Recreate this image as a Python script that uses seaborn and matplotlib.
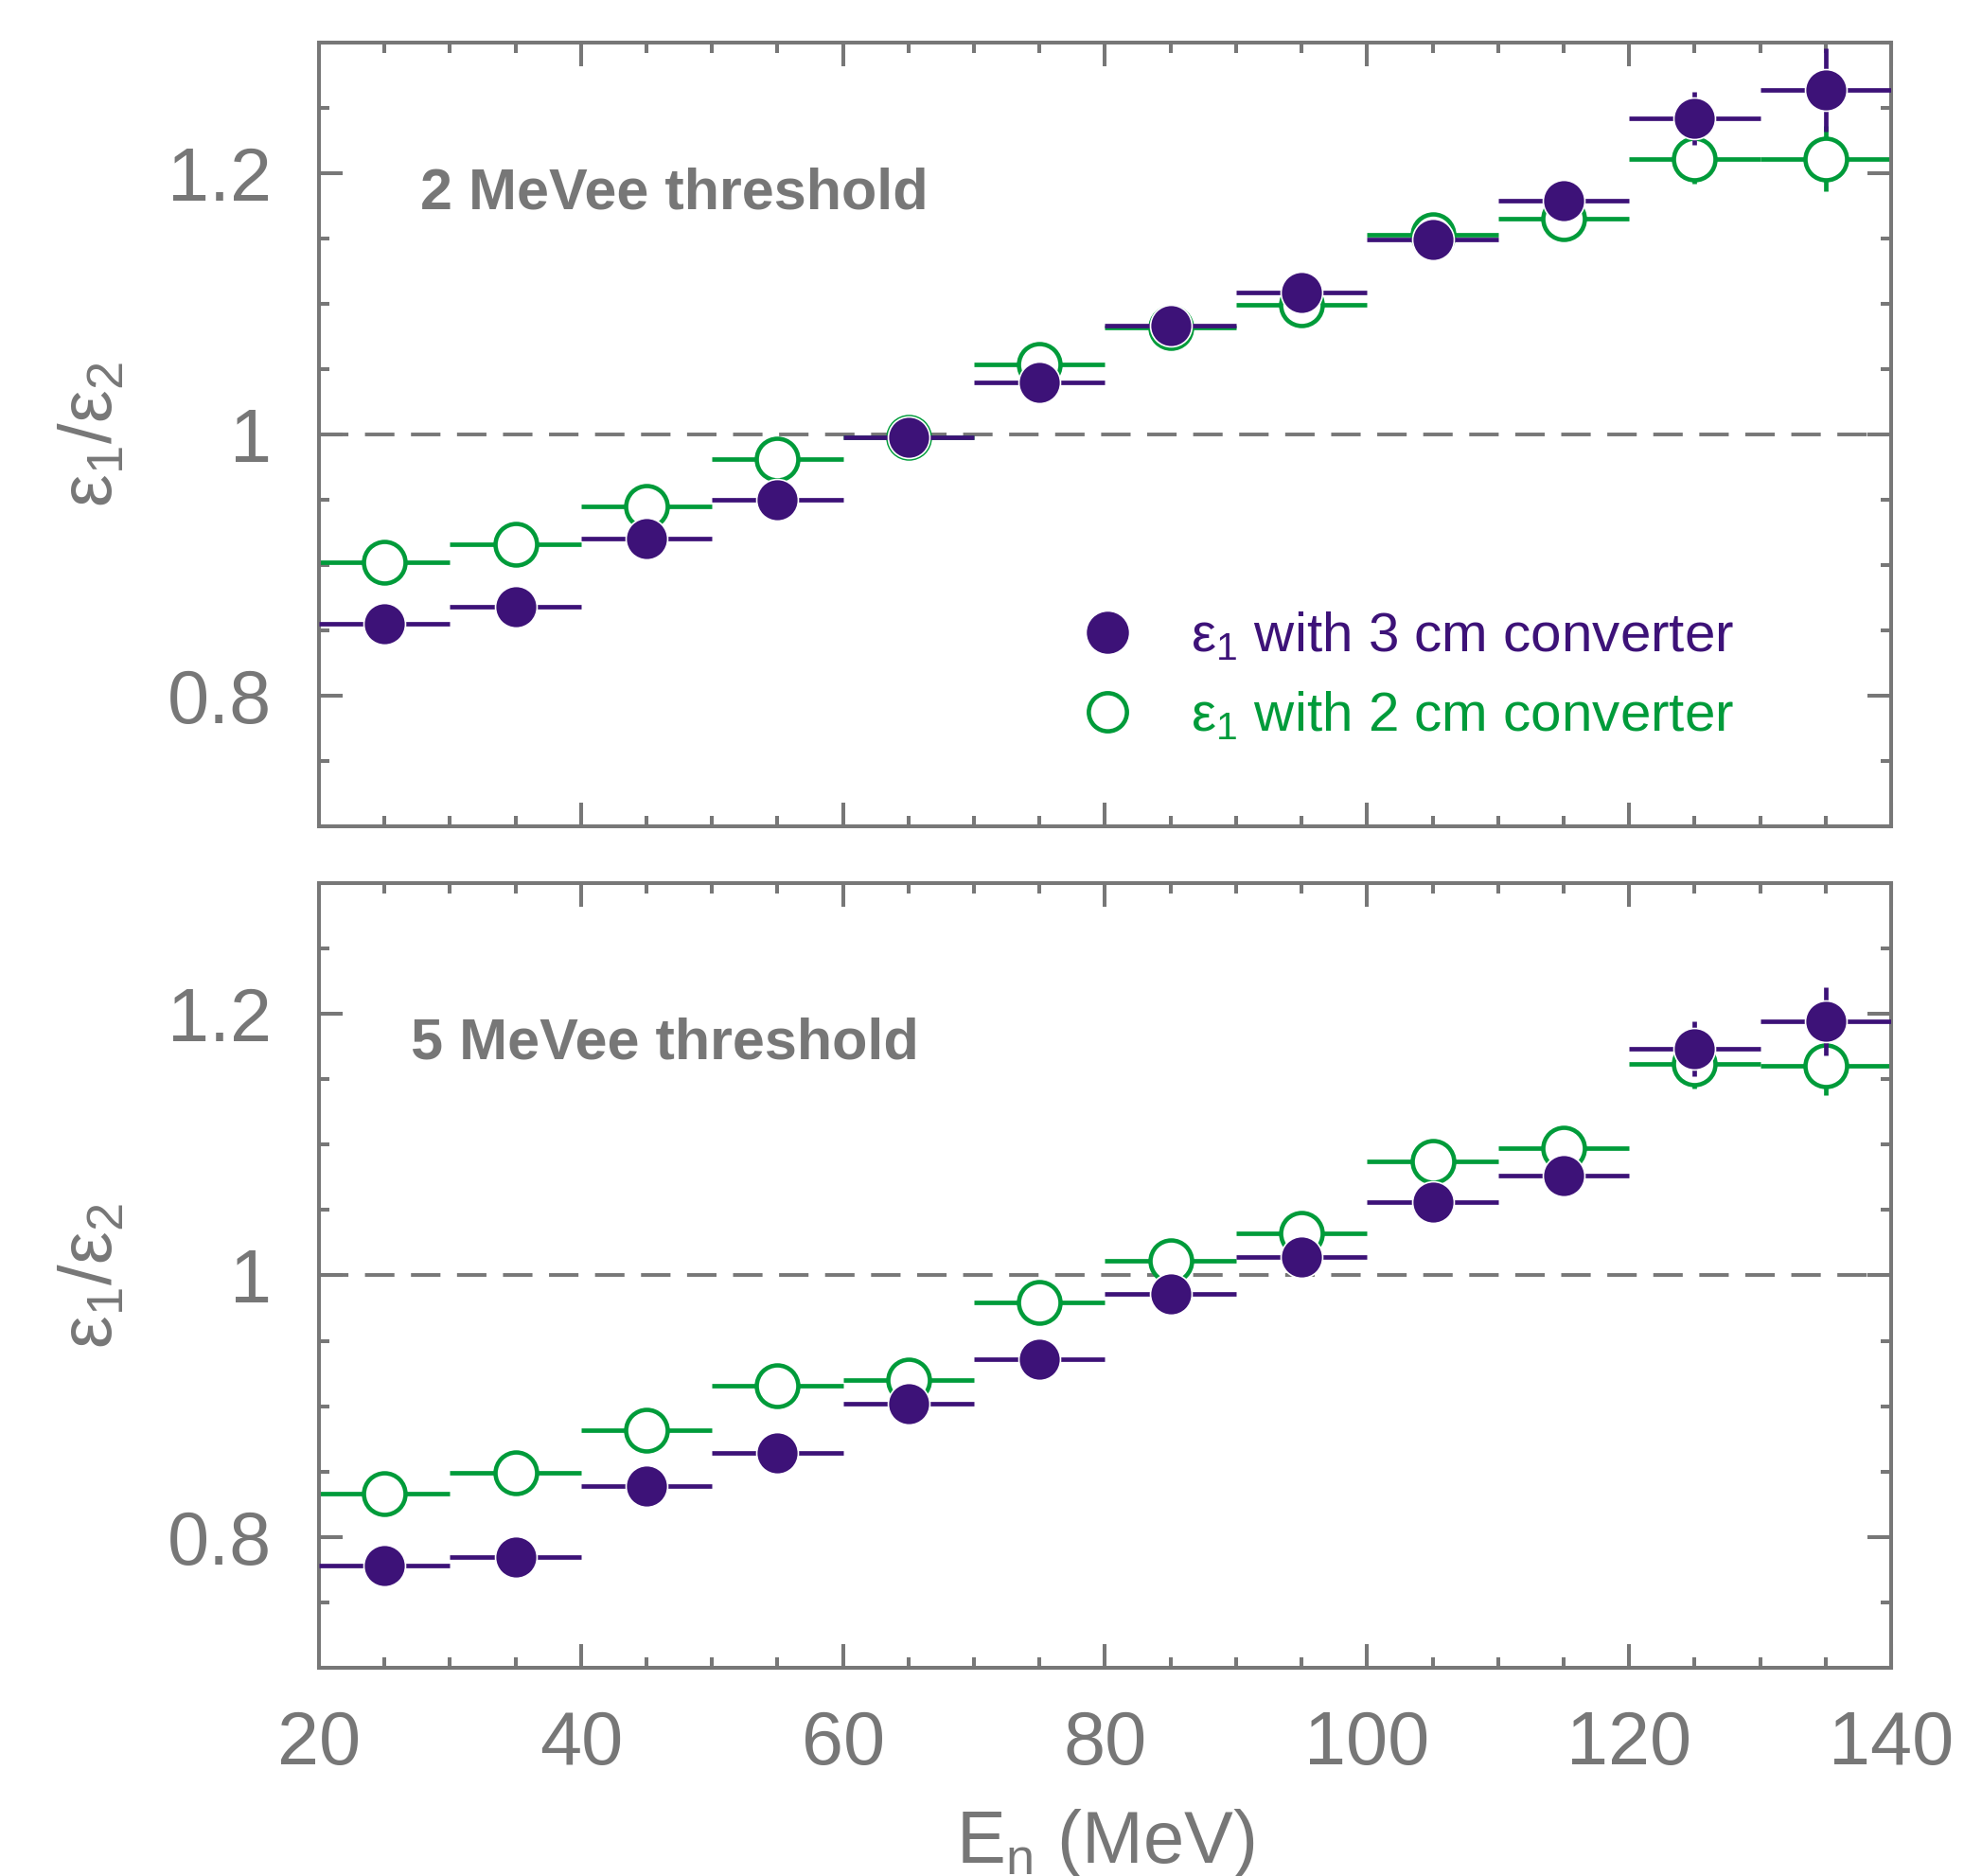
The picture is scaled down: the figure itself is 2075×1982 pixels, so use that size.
import numpy as np
import pandas as pd
import matplotlib
matplotlib.use("Agg")
import matplotlib.pyplot as plt
from matplotlib.ticker import MultipleLocator, FuncFormatter
from matplotlib.lines import Line2D
import seaborn as sns

# bin centres (MeV), bins are 10 MeV wide
energy = [25, 35, 45, 55, 65, 75, 85, 95, 105, 115, 125, 135]
half_width = [5] * 12

# 2 MeVee threshold
ratio_3cm_2mev = [0.855, 0.868, 0.920, 0.950, 0.998, 1.040, 1.083, 1.109, 1.149, 1.179, 1.242, 1.264]
err_3cm_2mev = [0.006, 0.006, 0.006, 0.006, 0.007, 0.007, 0.008, 0.008, 0.009, 0.010, 0.020, 0.032]
ratio_2cm_2mev = [0.902, 0.916, 0.945, 0.981, 0.998, 1.054, 1.082, 1.099, 1.153, 1.165, 1.211, 1.211]
err_2cm_2mev = [0.006, 0.006, 0.006, 0.006, 0.007, 0.007, 0.008, 0.008, 0.009, 0.010, 0.019, 0.025]

# 5 MeVee threshold
ratio_3cm_5mev = [0.778, 0.785, 0.839, 0.864, 0.902, 0.936, 0.986, 1.014, 1.056, 1.076, 1.173, 1.194]
err_3cm_5mev = [0.006, 0.006, 0.006, 0.006, 0.007, 0.007, 0.008, 0.008, 0.009, 0.010, 0.021, 0.026]
ratio_2cm_5mev = [0.833, 0.849, 0.882, 0.916, 0.920, 0.979, 1.011, 1.032, 1.087, 1.097, 1.162, 1.160]
err_2cm_5mev = [0.006, 0.006, 0.006, 0.006, 0.007, 0.007, 0.008, 0.008, 0.009, 0.010, 0.019, 0.022]

panel_labels = ["2 MeVee threshold", "5 MeVee threshold"]
legend_labels = [r"$\varepsilon_1$ with 3 cm converter", r"$\varepsilon_1$ with 2 cm converter"]

purple = "#3d1278"
green = "#009b3a"
gray = "#777777"

sns.set_theme(style="ticks")
plt.rcParams["font.family"] = ["Liberation Sans", "DejaVu Sans"]
plt.rcParams["mathtext.fontset"] = "custom"
plt.rcParams["mathtext.rm"] = "Liberation Sans"
plt.rcParams["mathtext.it"] = "Liberation Sans"
plt.rcParams["mathtext.default"] = "regular"

fig = plt.figure(figsize=(20.75, 19.82), dpi=100)
ax_top = fig.add_axes([0.1624, 0.5595, 0.8005, 0.4178])
ax_bot = fig.add_axes([0.1624, 0.1110, 0.8005, 0.4183], sharex=ax_top)

panels = [
    (ax_top, ratio_3cm_2mev, err_3cm_2mev, ratio_2cm_2mev, err_2cm_2mev, panel_labels[0], (27.7, 1.184)),
    (ax_bot, ratio_3cm_5mev, err_3cm_5mev, ratio_2cm_5mev, err_2cm_5mev, panel_labels[1], (27.0, 1.177)),
]

for ax, r3, e3, r2, e2, label, pos in panels:
    df = pd.DataFrame({"E": energy, "r3": r3, "e3": e3, "r2": r2, "e2": e2})

    ax.axhline(1.0, color=gray, lw=2.8, ls=(0, (8, 4.5)), zorder=1)

    # 2 cm converter (open green)
    ax.errorbar(df["E"], df["r2"], xerr=half_width, yerr=df["e2"], fmt="none",
                ecolor=green, elinewidth=3.4, capsize=0, zorder=2)
    sns.scatterplot(data=df, x="E", y="r2", ax=ax, s=1000, marker="o",
                    facecolor="white", edgecolor=green, linewidth=3.3, zorder=3)

    # 3 cm converter (filled purple)
    ax.errorbar(df["E"], df["r3"], xerr=half_width, yerr=df["e3"], fmt="none",
                ecolor=purple, elinewidth=3.4, capsize=0, zorder=4)
    sns.scatterplot(data=df, x="E", y="r3", ax=ax, s=1000, marker="o",
                    color=purple, edgecolor="white", linewidth=1.2, zorder=5)

    ax.text(pos[0], pos[1], label, fontsize=44, fontweight="bold", color=gray,
            ha="left", va="center")

    ax.set_xlim(20, 140)
    ax.set_ylim(0.7, 1.3)
    ax.xaxis.set_major_locator(MultipleLocator(20))
    ax.xaxis.set_minor_locator(MultipleLocator(5))
    ax.yaxis.set_major_locator(MultipleLocator(0.2))
    ax.yaxis.set_minor_locator(MultipleLocator(0.05))
    ax.yaxis.set_major_formatter(FuncFormatter(lambda v, p: "%g" % round(v, 2)))
    ax.tick_params(which="both", direction="in", top=True, right=True,
                   color=gray, labelcolor=gray, width=2.9)
    ax.tick_params(which="major", length=18, labelsize=57, pad=36)
    ax.tick_params(which="minor", length=8)
    ax.tick_params(axis="x", which="major", pad=32)
    for sp in ax.spines.values():
        sp.set_color(gray)
        sp.set_linewidth(2.9)
    ax.set_ylabel(r"$\varepsilon_1/\varepsilon_2$", fontsize=56, color=gray, labelpad=30)
    ax.set_xlabel("")

ax_top.tick_params(labelbottom=False)
ax_bot.set_xlabel(r"$E_n$ (MeV)", fontsize=56, color=gray, labelpad=20)

handles = [
    Line2D([], [], ls="none", marker="o", markersize=31, color=purple, markeredgecolor=purple),
    Line2D([], [], ls="none", marker="o", markersize=29, markerfacecolor="white",
           markeredgecolor=green, markeredgewidth=3.3),
]
ax_top.legend(handles, legend_labels, loc="center left", bbox_to_anchor=(0.484, 0.191),
              frameon=False, fontsize=42, handlelength=1.0, handletextpad=1.0,
              labelspacing=0.5, borderpad=0, borderaxespad=0,
              labelcolor=[purple, green])

fig.savefig("out.png", dpi=100)
